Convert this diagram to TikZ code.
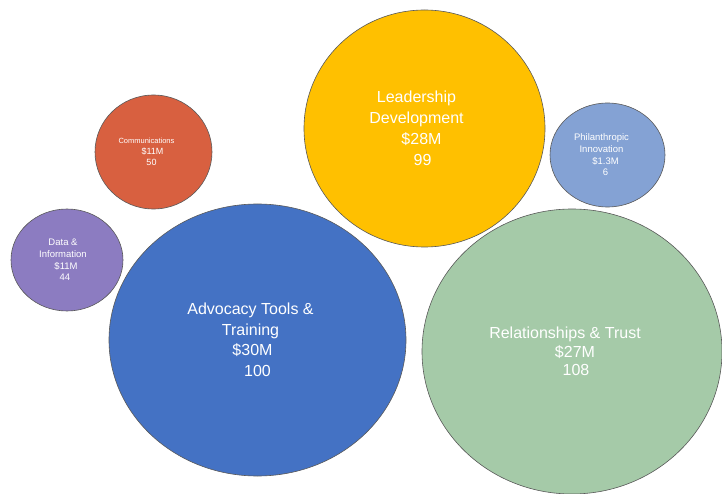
\documentclass[tikz,border=0pt]{standalone}
\usepackage{fontspec}
\setmainfont{Liberation Sans}
\usetikzlibrary{shapes.geometric}

\definecolor{leadC}{HTML}{FFC000}
\definecolor{commC}{HTML}{D86040}
\definecolor{philC}{HTML}{84A2D4}
\definecolor{dataC}{HTML}{8C7CC1}
\definecolor{advoC}{HTML}{4472C4}
\definecolor{relaC}{HTML}{A5CAA8}

\begin{document}
\begin{tikzpicture}[x=1pt,y=-1pt,
    bubble/.style={ellipse,draw=black!65,line width=0.6pt,inner sep=0pt},
    bigtext/.style={text=white,align=center,font=\fontsize{16}{20.5}\selectfont},
    smalltext/.style={text=white,align=center,font=\fontsize{9.5}{11.7}\selectfont}
    ]
\useasboundingbox (0,0) rectangle (722,494);

\node[bubble,fill=leadC,minimum width=241,minimum height=237] (lead) at (424.5,128.5) {};
\node[bubble,fill=commC,minimum width=117,minimum height=114] (comm) at (153.5,152) {};
\node[bubble,fill=philC,minimum width=115,minimum height=104] (phil) at (607.5,155) {};
\node[bubble,fill=dataC,minimum width=112,minimum height=102] (data) at (67,260) {};
\node[bubble,fill=advoC,minimum width=297,minimum height=272] (advo) at (257.5,340) {};
\node[bubble,fill=relaC,minimum width=300,minimum height=285] (rela) at (572,351.5) {};

\node[bigtext,font=\fontsize{16}{21}\selectfont] (lead-t) at ([xshift=-8pt]lead.center) {Leadership\\Development\\\hspace*{10pt}\$28M\\\hspace*{12pt}99};
\node[bigtext] (advo-t) at ([xshift=-7pt]advo.center) {Advocacy Tools \&\\Training\\\hspace*{4pt}\$30M\\\hspace*{14pt}100};
\node[bigtext,font=\fontsize{16}{18.5}\selectfont] (rela-t) at ([xshift=-7pt]rela.center) {Relationships \& Trust\\\hspace*{20pt}\$27M\\\hspace*{22pt}108};
\node[smalltext,font=\fontsize{9}{10.7}\selectfont] (comm-t) at ([xshift=-7pt]comm.center) {{\fontsize{7.5}{9}\selectfont Communications}\\\hspace*{12pt}\$11M\\\hspace*{10pt}50};
\node[smalltext] (phil-t) at ([xshift=-6pt]phil.center) {Philanthropic\\Innovation\\\hspace*{8pt}\$1.3M\\\hspace*{8pt}6};
\node[smalltext] (data-t) at ([xshift=-4pt]data.center) {Data \&\\Information\\\hspace*{6pt}\$11M\\\hspace*{4pt}44};
\end{tikzpicture}
\end{document}
